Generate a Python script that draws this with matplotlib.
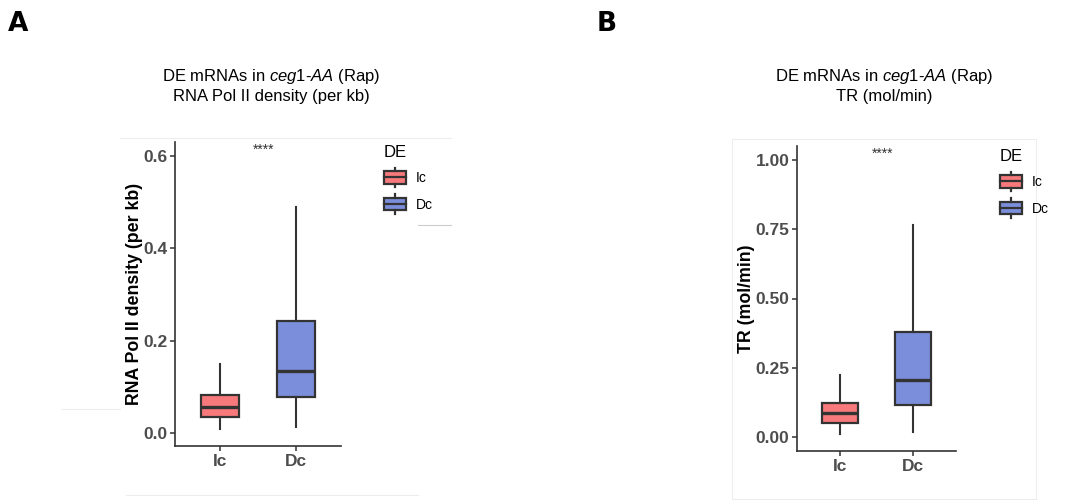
import matplotlib
matplotlib.use("Agg")
import matplotlib.pyplot as plt
from matplotlib.legend_handler import HandlerBase
from matplotlib.patches import Rectangle, Patch
from matplotlib.lines import Line2D

plt.rcParams['font.family'] = ['Liberation Sans', 'DejaVu Sans']
plt.rcParams['mathtext.fontset'] = 'custom'
plt.rcParams['mathtext.rm'] = 'Liberation Sans'
plt.rcParams['mathtext.it'] = 'Liberation Sans:italic'

# data (box stats per group)
groups = ["Ic", "Dc"]
colors = ["#F8797B", "#7B8EDC"]

pol2_whislo = [0.008, 0.013]
pol2_q1 = [0.035, 0.078]
pol2_med = [0.056, 0.134]
pol2_q3 = [0.082, 0.243]
pol2_whishi = [0.149, 0.489]

tr_whislo = [0.011, 0.018]
tr_q1 = [0.051, 0.116]
tr_med = [0.087, 0.206]
tr_q3 = [0.123, 0.379]
tr_whishi = [0.224, 0.765]

edge = "#333333"
tickc = "#4D4D4D"


class BoxHandler(HandlerBase):
    def create_artists(self, legend, orig_handle, xdescent, ydescent,
                       width, height, fontsize, trans):
        x0, y0 = -xdescent, -ydescent
        fc = orig_handle.get_facecolor()
        r = Rectangle((x0, y0 + 0.17 * height), width, 0.66 * height,
                      facecolor=fc, edgecolor=edge, lw=1.6, transform=trans)
        m = Line2D([x0, x0 + width], [y0 + height / 2] * 2, color=edge,
                   lw=1.6, transform=trans)
        w1 = Line2D([x0 + width / 2] * 2, [y0 + 0.83 * height, y0 + height],
                    color=edge, lw=1.6, transform=trans)
        w2 = Line2D([x0 + width / 2] * 2, [y0, y0 + 0.17 * height],
                    color=edge, lw=1.6, transform=trans)
        return [r, m, w1, w2]


def draw_panel(ax, lo, q1, med, q3, hi, ylim, yticks, ylabel, labx):
    stats = []
    for i, g in enumerate(groups):
        stats.append(dict(label=g, whislo=lo[i], q1=q1[i], med=med[i],
                          q3=q3[i], whishi=hi[i], fliers=[]))
    bp = ax.bxp(stats, positions=[1, 2], widths=0.5, patch_artist=True,
                showcaps=False,
                boxprops=dict(edgecolor=edge, linewidth=1.6),
                medianprops=dict(color=edge, linewidth=2.4),
                whiskerprops=dict(color=edge, linewidth=1.5))
    for patch, c in zip(bp['boxes'], colors):
        patch.set_facecolor(c)
    ax.set_xlim(0.4, 2.6)
    ax.set_ylim(*ylim)
    ax.set_yticks(yticks)
    for s in ['top', 'right']:
        ax.spines[s].set_visible(False)
    for s in ['left', 'bottom']:
        ax.spines[s].set_color(edge)
        ax.spines[s].set_linewidth(1.2)
    ax.tick_params(colors=edge, width=1.1, length=3.5, labelcolor=tickc,
                   labelsize=12.5, pad=2)
    for t in ax.get_xticklabels() + ax.get_yticklabels():
        t.set_fontweight('bold')
    ax.set_ylabel(ylabel, fontsize=12.8, fontweight='bold', color='black')
    ax.yaxis.set_label_coords(labx, 0.5)
    ax.text(1.58, 0.975, "****", ha='center', va='center', fontsize=10,
            color=edge, transform=ax.get_xaxis_transform())


fig = plt.figure(figsize=(10.91, 5.01), dpi=100)
W, H = 1091, 501

axA = fig.add_axes([175 / W, 1 - 446 / H, 166 / W, 304 / H])
draw_panel(axA, pol2_whislo, pol2_q1, pol2_med, pol2_q3, pol2_whishi,
           (-0.028, 0.63), [0.0, 0.2, 0.4, 0.6],
           "RNA Pol II density (per kb)", -0.195)
axA.set_yticklabels(["0.0", "0.2", "0.4", "0.6"])

axB = fig.add_axes([797 / W, 1 - 451 / H, 159 / W, 305 / H])
draw_panel(axB, tr_whislo, tr_q1, tr_med, tr_q3, tr_whishi,
           (-0.05, 1.05), [0.0, 0.25, 0.5, 0.75, 1.0],
           "TR (mol/min)", -0.265)
axB.set_yticklabels(["0.00", "0.25", "0.50", "0.75", "1.00"])

# titles
title1 = r"DE mRNAs in $\mathit{ceg1}$-$\mathit{AA}$ (Rap)"
fig.text(271 / W, 1 - 76 / H, title1, ha='center', va='center', fontsize=12)
fig.text(271 / W, 1 - 97 / H, "RNA Pol II density (per kb)", ha='center',
         va='center', fontsize=12)
fig.text(884 / W, 1 - 76 / H, title1, ha='center', va='center', fontsize=12)
fig.text(884 / W, 1 - 97 / H, "TR (mol/min)", ha='center', va='center',
         fontsize=12)

# panel letters
fig.text(8 / W, 1 - 24 / H, "A", fontsize=19, fontweight='bold', va='center',
         family='DejaVu Sans')
fig.text(597 / W, 1 - 24 / H, "B", fontsize=19, fontweight='bold', va='center',
         family='DejaVu Sans')

# legends
handles = [Patch(facecolor=c) for c in colors]
for lx, ly in [(384, 145), (1000, 149)]:
    leg = fig.legend(handles, groups, title="DE", loc='upper left',
                     bbox_to_anchor=(lx / W, 1 - ly / H), frameon=False,
                     fontsize=10, title_fontsize=12, alignment='left',
                     handler_map={Patch: BoxHandler()}, handlelength=1.6,
                     handleheight=1.75, labelspacing=0.55, borderpad=0,
                     handletextpad=0.7, borderaxespad=0)

# faint frame lines left over from the panel export
fl = dict(color="#EDEDED", lw=0.8, transform=fig.transFigure)
fig.add_artist(Line2D([120 / W, 451 / W], [1 - 138 / H] * 2, **fl))
fig.add_artist(Line2D([126 / W, 418 / W], [1 - 495 / H] * 2, **fl))
fig.add_artist(Line2D([62 / W, 120 / W], [1 - 409 / H] * 2, **fl))
fig.add_artist(Line2D([418 / W, 451 / W], [1 - 225 / H] * 2, color="#CCCCCC",
                      lw=0.8, transform=fig.transFigure))
fig.add_artist(Line2D([732 / W, 1036 / W, 1036 / W, 732 / W, 732 / W],
                      [1 - 139 / H, 1 - 139 / H, 1 - 499 / H, 1 - 499 / H,
                       1 - 139 / H], **fl))

fig.savefig("out.png", dpi=100, facecolor='white')
